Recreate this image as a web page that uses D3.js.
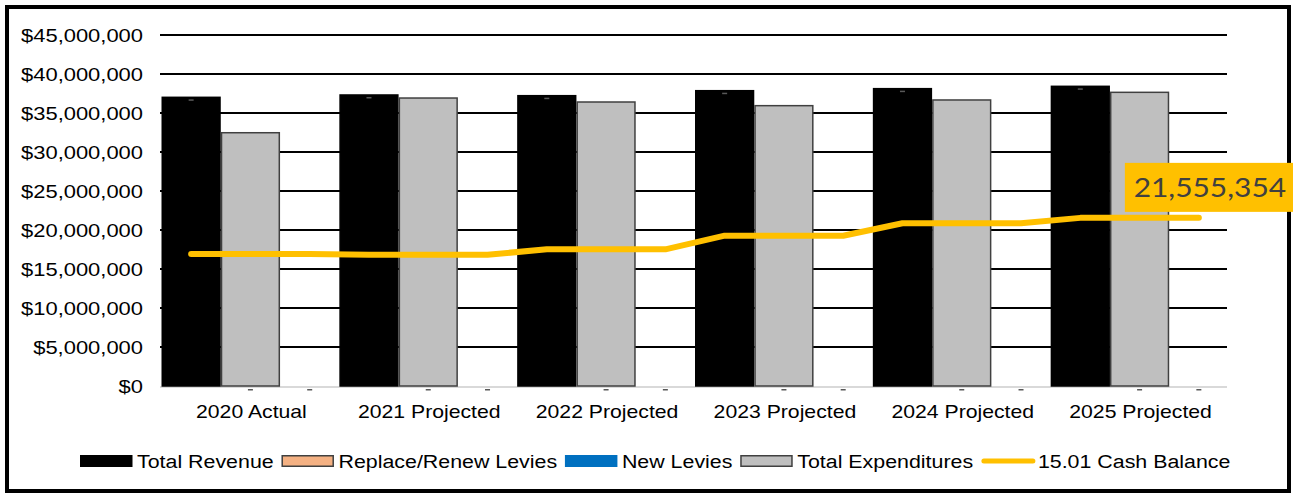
<!DOCTYPE html>
<html>
<head>
<meta charset="utf-8">
<script src="https://cdn.jsdelivr.net/npm/d3@7"></script>
<style>
  html, body { margin: 0; padding: 0; background: #fff; }
  svg { display: block; }
</style>
</head>
<body>
<svg id="chart" width="1293" height="498"></svg>
<script>
// Budget forecast: revenue vs. expenditures with the ending cash balance
const years = ["2020 Actual", "2021 Projected", "2022 Projected", "2023 Projected", "2024 Projected", "2025 Projected"];
const totalRevenue = [37010000, 37310000, 37220000, 37860000, 38120000, 38420000];
const replaceRenewLevies = [0, 0, 0, 0, 0, 0];
const newLevies = [0, 0, 0, 0, 0, 0];
const totalExpenditures = [32470000, 36920000, 36410000, 35940000, 36670000, 37650000];
const cashBalance = [16920000, 16830000, 17520000, 19270000, 20860000, 21555354];
const yTicks = [0, 5000000, 10000000, 15000000, 20000000, 25000000, 30000000, 35000000, 40000000, 45000000];

const seriesNames = ["Total Revenue", "Replace/Renew Levies", "New Levies", "Total Expenditures", "15.01 Cash Balance"];
const colors = {
  revenue: "#000000",
  replace: "#F4B183",
  newLevy: "#0070C0",
  expend: "#BFBFBF",
  cash: "#FFC000"
};

const W = 1293, H = 498;
const margin = { left: 160, right: 1227, top: 35, bottom: 386 };
const FONT = "'Liberation Sans', Arial, sans-serif";
const FS = 18.6;      // label font size
const SX_AXIS = 1.18; // horizontal stretch: value axis
const SX_LEG = 1.15;  // horizontal stretch: legend
const SX_CAT = 1.14;  // horizontal stretch: category labels

const svg = d3.select("#chart");
svg.append("rect").attr("width", W).attr("height", H).attr("fill", "#fff");

const y = d3.scaleLinear().domain([0, 45000000]).range([margin.bottom, margin.top]);
const x0 = d3.scaleBand().domain(years).range([margin.left + 1.5, margin.right + 1.5]).padding(0);
const x1 = d3.scaleBand().domain(["rev", "exp", "gap"]).range([0, x0.bandwidth()]).padding(0);

// place a text node with a horizontal stretch, keeping its anchor point fixed
function stretched(sel, x, yy, sx) {
  return sel.attr("transform", `translate(${x},${yy}) scale(${sx},1)`);
}

// gridlines
const grid = svg.append("g");
grid.selectAll("line").data(yTicks.filter(d => d > 0)).join("line")
  .attr("x1", margin.left).attr("x2", margin.right)
  .attr("y1", d => y(d)).attr("y2", d => y(d))
  .attr("stroke", "#000").attr("stroke-width", 2);

// y axis labels
const fmt = d => "$" + d3.format(",")(d);
const yAxis = svg.append("g").attr("font-family", FONT).attr("font-size", FS).attr("fill", "#000");
yTicks.forEach(t => {
  stretched(yAxis.append("text"), 143, y(t) + 6.5, SX_AXIS)
    .attr("text-anchor", "end").text(fmt(t));
});

// x axis baseline
svg.append("line")
  .attr("x1", margin.left).attr("x2", margin.right)
  .attr("y1", y(0) + 1).attr("y2", y(0) + 1)
  .attr("stroke", "#D9D9D9").attr("stroke-width", 2);

const rows = years.map((yr, i) => ({
  yr, rev: totalRevenue[i], rep: replaceRenewLevies[i], nl: newLevies[i],
  exp: totalExpenditures[i], cash: cashBalance[i]
}));

const bars = svg.append("g");
// revenue column with levy segments stacked on top
const stackG = bars.selectAll("g.stack").data(rows).join("g").attr("class", "stack")
  .attr("transform", d => `translate(${x0(d.yr) + x1("rev")},0)`);
stackG.append("rect")
  .attr("x", 0.75).attr("width", x1.bandwidth() - 1.5)
  .attr("y", d => y(d.rev)).attr("height", d => y(0) - y(d.rev))
  .attr("fill", colors.revenue).attr("stroke", colors.revenue).attr("stroke-width", 1.5);
stackG.append("rect")
  .attr("x", 0.75).attr("width", x1.bandwidth() - 1.5)
  .attr("y", d => y(d.rev + d.rep)).attr("height", d => y(d.rev) - y(d.rev + d.rep))
  .attr("fill", colors.replace);
stackG.append("rect")
  .attr("x", 0.75).attr("width", x1.bandwidth() - 1.5)
  .attr("y", d => y(d.rev + d.rep + d.nl)).attr("height", d => y(d.rev + d.rep) - y(d.rev + d.rep + d.nl))
  .attr("fill", colors.newLevy);

// expenditures column
bars.selectAll("rect.exp").data(rows).join("rect").attr("class", "exp")
  .attr("x", d => x0(d.yr) + x1("exp") + 0.75).attr("width", x1.bandwidth() - 1.5)
  .attr("y", d => y(d.exp)).attr("height", d => y(0) - y(d.exp))
  .attr("fill", colors.expend).attr("stroke", "#404040").attr("stroke-width", 1.5);

// zero-value labels ("-")
const zeroLab = svg.append("g").attr("fill", "#595959");
rows.forEach(d => {
  const cx = x0(d.yr) + x1("rev") + x1.bandwidth() / 2;
  zeroLab.append("rect").attr("x", cx - 2.5).attr("y", y(d.rev + d.rep + d.nl) + 2).attr("width", 5).attr("height", 1.5);
  ["exp", "gap"].forEach(k => {
    const sx = x0(d.yr) + x1(k) + x1.bandwidth() / 2;
    zeroLab.append("rect").attr("x", sx - 2.5).attr("y", y(0) + 3).attr("width", 5).attr("height", 1.5);
  });
});

// cash balance line: level across each year's columns
const linePts = [];
rows.forEach(d => {
  linePts.push([x0(d.yr) + x1("rev") + x1.bandwidth() / 2, y(d.cash)]);
  linePts.push([x0(d.yr) + x1("gap") + x1.bandwidth() / 2, y(d.cash)]);
});
svg.append("path")
  .attr("d", d3.line()(linePts))
  .attr("fill", "none").attr("stroke", colors.cash).attr("stroke-width", 6)
  .attr("stroke-linecap", "round").attr("stroke-linejoin", "round");

// x category labels
const xLab = svg.append("g").attr("font-family", FONT).attr("font-size", FS).attr("fill", "#000");
years.forEach(yr => {
  stretched(xLab.append("text"), x0(yr) + x0.bandwidth() / 2 + 1, 418, SX_CAT)
    .attr("text-anchor", "middle").text(yr);
});

// legend
const legend = svg.append("g").attr("font-family", FONT).attr("font-size", FS).attr("fill", "#000");
const legendItems = [
  { name: seriesNames[0], kind: "box", fill: colors.revenue, stroke: colors.revenue },
  { name: seriesNames[1], kind: "box", fill: colors.replace, stroke: "#404040" },
  { name: seriesNames[2], kind: "box", fill: colors.newLevy, stroke: colors.newLevy },
  { name: seriesNames[3], kind: "box", fill: colors.expend, stroke: "#404040" },
  { name: seriesNames[4], kind: "line", fill: colors.cash }
];
let lx = 80;
const ly = 461;
legendItems.forEach(it => {
  if (it.kind === "box") {
    legend.append("rect").attr("x", lx + 0.75).attr("y", ly - 5.25).attr("width", 51).attr("height", 10.5)
      .attr("fill", it.fill).attr("stroke", it.stroke).attr("stroke-width", 1.5);
  } else {
    legend.append("line").attr("x1", lx + 3).attr("x2", lx + 52).attr("y1", ly).attr("y2", ly)
      .attr("stroke", it.fill).attr("stroke-width", 5).attr("stroke-linecap", "round");
  }
  const t = stretched(legend.append("text"), lx + 57, ly + 7, SX_LEG).text(it.name);
  lx += 57 + t.node().getComputedTextLength() * SX_LEG + 7.8;
});

// callout for the final cash balance
const last = linePts[linePts.length - 1];
const call = svg.append("g");
call.append("rect")
  .attr("x", last[0] - 74).attr("y", last[1] - 55)
  .attr("width", 172).attr("height", 49)
  .attr("fill", colors.cash);
const ct = call.append("text")
  .attr("font-family", "Lato, 'Open Sans', sans-serif").attr("font-size", 26.5)
  .attr("fill", "#404040").attr("text-anchor", "middle")
  .text(d3.format(",")(cashBalance[cashBalance.length - 1]));
stretched(ct, last[0] + 11, last[1] - 21, 1.13);

// chart border
svg.append("rect")
  .attr("x", 7).attr("y", 7).attr("width", 1282).attr("height", 484)
  .attr("fill", "none").attr("stroke", "#000").attr("stroke-width", 4);
call.raise();
</script>
</body>
</html>
